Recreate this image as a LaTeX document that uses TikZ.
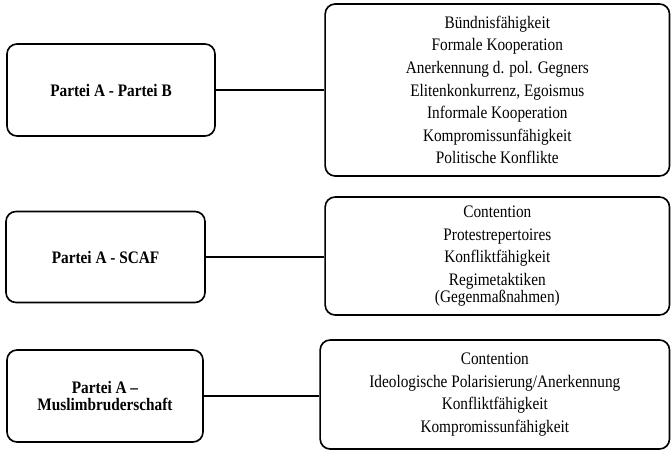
\documentclass[tikz,border=0pt]{standalone}
\usepackage{fontspec}
\setmainfont{Liberation Serif}[FakeStretch=0.87]

\begin{document}
\begin{tikzpicture}[thick,
    party/.style={draw, line width=1.4pt, rounded corners=0.3cm, align=center,
        inner sep=0pt, font=\fontsize{15}{14.3}\selectfont\bfseries},
    factors/.style={draw, line width=1.4pt, rounded corners=0.3cm, align=center,
        inner sep=0pt, minimum width=10.33cm, font=\fontsize{15}{14.3}\selectfont},
    link/.style={line width=1.4pt}]

    % 1. Fix the frame of the page
    \useasboundingbox (0,0) rectangle (20.13,13.5);
    \def\gap{5pt}

    % 2. Draw the three actor pairs on the left
    \node[party, minimum width=6.24cm, minimum height=2.76cm] (AB) at (3.33,10.8) {Partei A - Partei B};
    \node[party, minimum width=5.97cm, minimum height=2.73cm] (AS) at (3.165,5.79) {Partei A - SCAF};
    \node[party, minimum width=5.88cm, minimum height=2.76cm] (AM) at (3.15,1.62) {Partei A --\\Muslimbruderschaft};

    % 3. Draw the factor boxes on the right
    \node[factors, minimum height=5.16cm] (fAB) at (14.92,10.8) {Bündnisfähigkeit\\[\gap]
        Formale Kooperation\\[\gap]
        Anerkennung d. pol. Gegners\\[\gap]
        Elitenkonkurrenz, Egoismus\\[\gap]
        Informale Kooperation\\[\gap]
        Kompromissunfähigkeit\\[\gap]
        Politische Konflikte};
    \node[factors, minimum height=3.54cm] (fAS) at (14.92,5.82) {Contention\\[\gap]
        Protestrepertoires\\[\gap]
        Konfliktfähigkeit\\[\gap]
        Regimetaktiken\\
        (Gegenmaßnahmen)};
    \node[factors, minimum width=10.48cm, minimum height=3.27cm] (fAM) at (14.845,1.665) {Contention\\[\gap]
        Ideologische Polarisierung/Anerkennung\\[\gap]
        Konfliktfähigkeit\\[\gap]
        Kompromissunfähigkeit};

    % 4. Connect each pair with its factors
    \draw[link] (AB.east) -- (AB.east -| fAB.west);
    \draw[link] (AS.east) -- (AS.east -| fAS.west);
    \draw[link] (AM.east) -- (AM.east -| fAM.west);

\end{tikzpicture}
\end{document}
